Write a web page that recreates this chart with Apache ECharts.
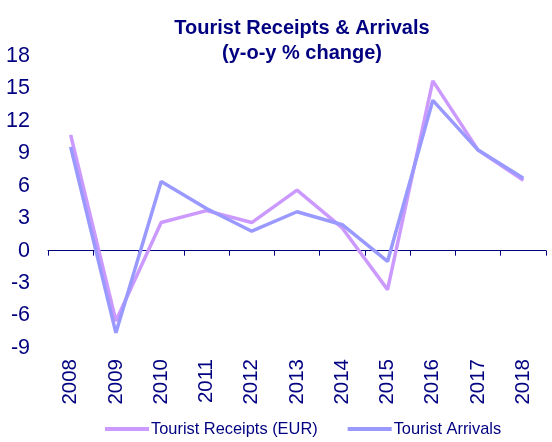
<!DOCTYPE html>
<html><head><meta charset="utf-8">
<script src="https://cdn.jsdelivr.net/npm/echarts@6/dist/echarts.min.js"></script>
<style>html,body{margin:0;padding:0;background:#fff}#c{width:552px;height:442px}</style>
</head><body><div id="c"></div>
<script>
const years = ['2008','2009','2010','2011','2012','2013','2014','2015','2016','2017','2018'];
const receipts = [10.7, -6.5, 2.6, 3.7, 2.6, 5.6, 2.1, -3.6, 15.7, 9.3, 6.5];
const arrivals = [9.6, -7.6, 6.4, 3.9, 1.8, 3.6, 2.4, -1.0, 13.9, 9.3, 6.7];
const yTicks = [-9, -6, -3, 0, 3, 6, 9, 12, 15, 18];

const navy = '#000080';
const font = 'Liberation Sans, Arial, sans-serif';
const chart = echarts.init(document.getElementById('c'));
chart.setOption({
  animation: false,
  backgroundColor: '#fff',
  title: {
    text: 'Tourist Receipts & Arrivals\n(y-o-y % change)',
    left: 297, top: 11, textAlign: 'center',
    textStyle: { color: navy, fontFamily: font, fontWeight: 'bold', fontSize: 20, lineHeight: 25 }
  },
  grid: { left: 48, right: 6, top: 56, bottom: 94 },
  legend: {
    bottom: 0, left: 100, height: 18,
    icon: 'rect', itemWidth: 44, itemHeight: 4, itemGap: 30,
    textStyle: { color: navy, fontFamily: font, fontSize: 16.4, padding: [0, 0, 0, -3] },
    data: ['Tourist Receipts (EUR)', 'Tourist Arrivals']
  },
  xAxis: [{
    type: 'category', data: years, boundaryGap: true,
    axisLine: { onZero: true, lineStyle: { color: navy, width: 1 } },
    axisTick: { show: true, inside: false, length: 5, lineStyle: { color: navy } },
    axisLabel: { show: false },
    splitLine: { show: false }
  }, {
    type: 'category', data: years, boundaryGap: true, position: 'bottom',
    axisLine: { show: false, onZero: false },
    axisTick: { show: false },
    axisLabel: { show: true, rotate: 90, margin: 11, color: navy, fontFamily: font, fontSize: 20.5 },
    splitLine: { show: false }
  }],
  yAxis: {
    type: 'value', min: yTicks[0], max: yTicks[yTicks.length - 1], interval: 3,
    axisLine: { show: false }, axisTick: { show: false },
    splitLine: { show: false },
    axisLabel: { color: navy, fontFamily: font, fontSize: 21.5, margin: 18 }
  },
  series: [{
    name: 'Tourist Receipts (EUR)', type: 'line', data: receipts, xAxisIndex: 0,
    showSymbol: false, symbol: 'none',
    lineStyle: { color: '#cc99ff', width: 3.5 }, itemStyle: { color: '#cc99ff' }
  }, {
    name: 'Tourist Arrivals', type: 'line', data: arrivals, xAxisIndex: 0,
    showSymbol: false, symbol: 'none',
    lineStyle: { color: '#9999ff', width: 3.5 }, itemStyle: { color: '#9999ff' }
  }]
});
</script></body></html>
